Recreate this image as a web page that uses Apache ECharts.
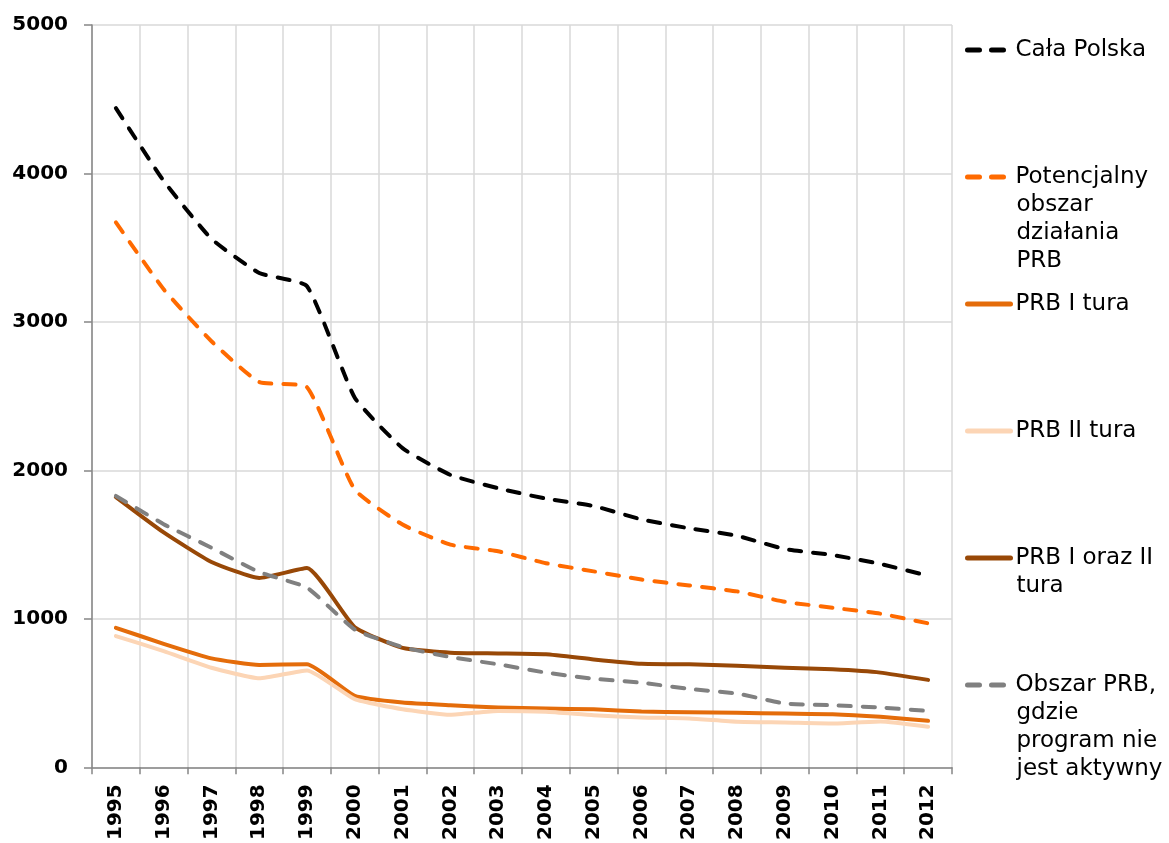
<!DOCTYPE html>
<html>
<head>
<meta charset="utf-8">
<script src="https://cdn.jsdelivr.net/npm/echarts@6/dist/echarts.min.js"></script>
<style>
  html, body { margin: 0; padding: 0; background: #fff; }
  #chart { width: 1169px; height: 843px; }
</style>
</head>
<body>
<div id="chart"></div>
<script>
  const YEARS = ['1995', '1996', '1997', '1998', '1999', '2000', '2001', '2002', '2003',
    '2004', '2005', '2006', '2007', '2008', '2009', '2010', '2011', '2012'];
  const Y_TICKS = [0, 1000, 2000, 3000, 4000, 5000];

  const CALA_POLSKA = [4440, 3950, 3560, 3330, 3240, 2490, 2150, 1970, 1880, 1810, 1760, 1670, 1610, 1560, 1470, 1430, 1370, 1290];
  const POTENCJALNY = [3670, 3220, 2870, 2595, 2560, 1870, 1635, 1500, 1455, 1375, 1320, 1265, 1225, 1185, 1115, 1075, 1035, 970];
  const PRB_I = [940, 832, 734, 690, 694, 481, 436, 418, 403, 396, 391, 376, 371, 367, 362, 358, 340, 313];
  const PRB_II = [884, 783, 671, 600, 653, 459, 391, 354, 380, 374, 351, 336, 329, 307, 302, 295, 309, 273];
  const PRB_I_II = [1820, 1582, 1383, 1275, 1342, 944, 805, 772, 767, 761, 727, 698, 694, 685, 671, 660, 638, 589];
  const OBSZAR_NIEAKTYWNY = [1828, 1638, 1479, 1315, 1210, 928, 810, 743, 694, 638, 597, 570, 528, 497, 430, 418, 403, 380];

  // name, legend text (wrapped like the original), colour, dashed?, legend icon centre y
  const SERIES = [
    { name: 'Cała Polska', label: 'Cała Polska', data: CALA_POLSKA, color: '#000000', dashed: true, iconY: 50 },
    { name: 'Potencjalny obszar działania PRB', label: 'Potencjalny\nobszar\ndziałania\nPRB', data: POTENCJALNY, color: '#ff6a00', dashed: true, iconY: 177 },
    { name: 'PRB I tura', label: 'PRB I tura', data: PRB_I, color: '#e46c0a', dashed: false, iconY: 304 },
    { name: 'PRB II tura', label: 'PRB II tura', data: PRB_II, color: '#fcd5b5', dashed: false, iconY: 431 },
    { name: 'PRB I oraz II tura', label: 'PRB I oraz II\ntura', data: PRB_I_II, color: '#984807', dashed: false, iconY: 558 },
    { name: 'Obszar PRB, gdzie program nie jest aktywny', label: 'Obszar PRB,\ngdzie\nprogram nie\njest aktywny', data: OBSZAR_NIEAKTYWNY, color: '#808080', dashed: true, iconY: 685 }
  ];

  const LINE_H = 28;
  const DASH = [12, 12];

  const legendText = {
    fontFamily: 'DejaVu Sans',
    fontSize: 23,
    color: '#000',
    lineHeight: LINE_H
  };

  // first line goes next to the icon, the rest of a wrapped label in a second,
  // icon-less legend right below it (round caps push the first one 2.5px right)
  const legends = [];
  SERIES.forEach(s => {
    const lines = s.label.split('\n');
    legends.push({
      data: [s.name],
      left: 965,
      top: s.iconY - LINE_H / 2,
      padding: 0,
      itemWidth: 43,
      itemHeight: 14,
      selectedMode: false,
      formatter: () => lines[0],
      itemStyle: { opacity: 0 },
      lineStyle: { width: 5, cap: 'round' },
      textStyle: legendText
    });
    if (lines.length > 1) {
      legends.push({
        data: [s.name],
        left: 967.5,
        top: s.iconY + LINE_H / 2,
        padding: 0,
        itemWidth: 43,
        itemHeight: 14,
        selectedMode: false,
        formatter: () => lines.slice(1).join('\n'),
        itemStyle: { opacity: 0 },
        lineStyle: { opacity: 0 },
        textStyle: legendText
      });
    }
  });

  const option = {
    animation: false,
    backgroundColor: '#ffffff',
    grid: { left: 92, right: 217, top: 25, bottom: 73 },
    legend: legends,
    xAxis: {
      type: 'category',
      data: YEARS,
      boundaryGap: true,
      axisLine: { lineStyle: { color: '#868686', width: 1.5 } },
      axisTick: { show: true, length: 7, lineStyle: { color: '#868686', width: 1.5 } },
      axisLabel: {
        rotate: 90,
        interval: 0,
        margin: 17,
        color: '#000',
        fontFamily: 'DejaVu Sans',
        fontWeight: 'bold',
        fontSize: 20
      },
      splitLine: { show: true, interval: 0, lineStyle: { color: '#d9d9d9', width: 1.5 } }
    },
    yAxis: {
      type: 'value',
      min: Y_TICKS[0],
      max: Y_TICKS[Y_TICKS.length - 1],
      interval: 1000,
      axisLine: { show: true, lineStyle: { color: '#868686', width: 1.5 } },
      axisTick: { show: true, length: 8, lineStyle: { color: '#868686', width: 1.5 } },
      axisLabel: {
        margin: 24,
        color: '#000',
        fontFamily: 'DejaVu Sans',
        fontWeight: 'bold',
        fontSize: 20,
        formatter: v => String(v)
      },
      splitLine: { show: true, lineStyle: { color: '#d9d9d9', width: 1.5 } }
    },
    series: SERIES.map(s => ({
      name: s.name,
      type: 'line',
      data: s.data,
      symbol: 'none',
      smooth: 0.15,
      color: s.color,
      lineStyle: {
        color: s.color,
        width: 4,
        type: s.dashed ? DASH : 'solid',
        cap: 'round',
        join: 'round'
      }
    }))
  };

  const chart = echarts.init(document.getElementById('chart'));
  chart.setOption(option);
</script>
</body>
</html>
